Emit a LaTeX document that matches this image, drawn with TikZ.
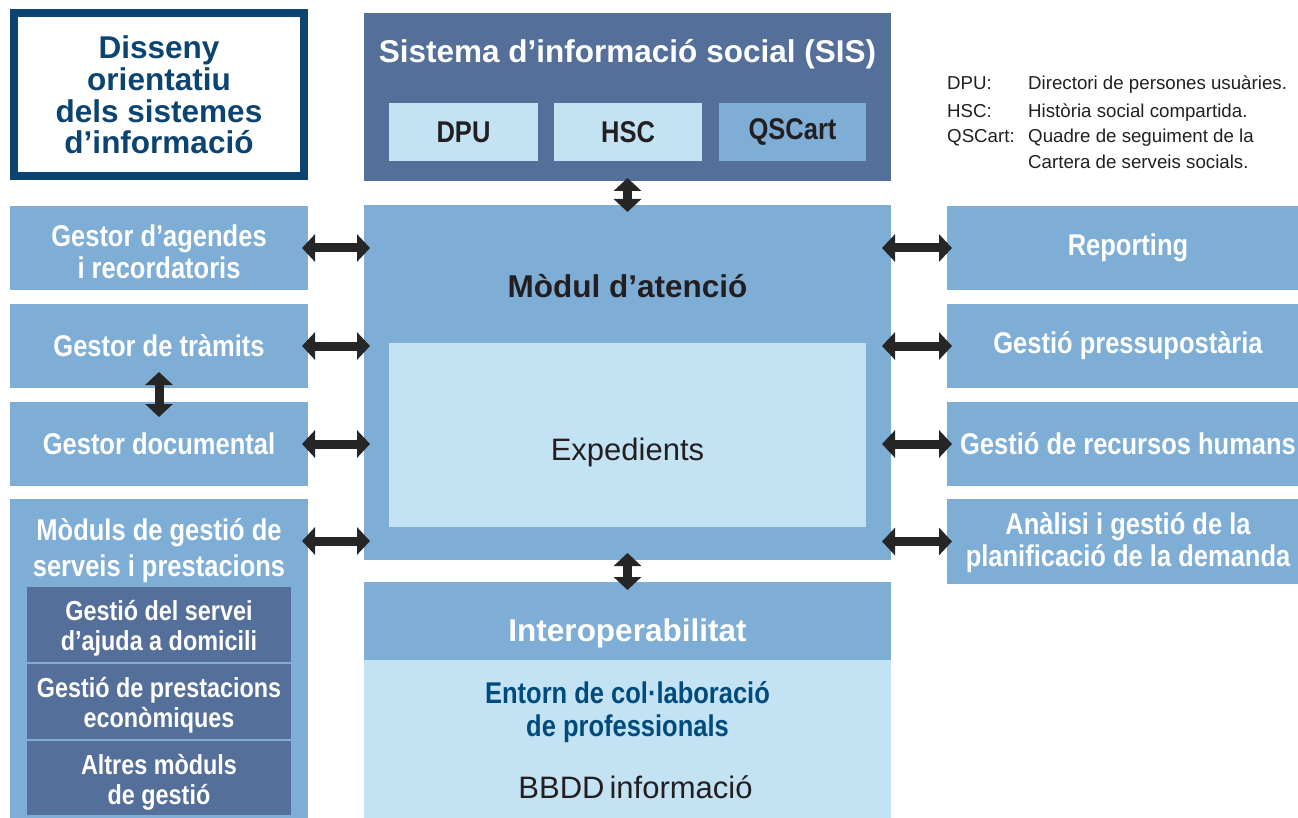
\documentclass[tikz,border=0pt]{standalone}
\usepackage{fontspec}
\setmainfont{Liberation Sans}
\newfontfamily\narrowfont[FakeStretch=0.85]{Liberation Sans}
\usetikzlibrary{arrows.meta}
\definecolor{slate}{HTML}{54709A}
\definecolor{midblue}{HTML}{7EADD6}
\definecolor{lightblue}{HTML}{C3E3F5}
\definecolor{navy}{HTML}{0B4470}
\definecolor{navytext}{HTML}{004B7E}
\definecolor{arrowc}{HTML}{262626}
\definecolor{ink}{HTML}{231F20}
\begin{document}
\begin{tikzpicture}[x=1pt,y=-1pt,
  box/.style={anchor=north west, inner sep=0pt, outer sep=0pt, align=center},
  sidefont/.style={text=white, font=\narrowfont\bfseries\fontsize{30}{32}\selectfont},
  sidebox/.style={box, fill=midblue, minimum width=298pt, minimum height=84pt, sidefont},
  rightbox/.style={sidebox, minimum width=362pt},
  subbox/.style={box, fill=slate, minimum width=264pt, minimum height=75pt},
  subtext/.style={inner sep=0pt, align=center, text=white,
    font=\narrowfont\bfseries\fontsize{27.5}{30}\selectfont},
  sisbox/.style={box, minimum width=149pt, minimum height=58pt, text=ink,
    font=\narrowfont\bfseries\fontsize{30}{32}\selectfont},
  bigbold/.style={inner sep=0pt, font=\bfseries\fontsize{31.5}{32}\selectfont},
  bigreg/.style={inner sep=0pt, font=\fontsize{31}{32}\selectfont, text=ink},
  legend/.style={inner sep=0pt, anchor=base west, text=ink, font=\fontsize{18.7}{20}\selectfont},
  biarrow/.style={draw=arrowc, line width=9pt, {Triangle[width=27pt,length=13pt]}-{Triangle[width=27pt,length=13pt]}}
]
\useasboundingbox (0,0) rectangle (1298,818);

% title box
\node[draw=navy, line width=8pt, minimum width=290pt, minimum height=163pt, inner sep=0pt,
  align=center, text=navy, font=\bfseries\fontsize{31.5}{31.7}\selectfont] (title) at (159,95)
  {Disseny\\orientatiu\\dels sistemes\\d’informació};

% SIS
\node[box, fill=slate, minimum width=527pt, minimum height=168pt] (sis) at (364,13) {};
\node[bigbold, text=white, anchor=base] (sistitle) at (627.5,63) {Sistema d’informació social (SIS)};
\node[sisbox, fill=lightblue] (dpu) at (389,103) {DPU};
\node[sisbox, fill=lightblue, minimum width=148pt] (hsc) at (554,103) {HSC};
\node[sisbox, fill=midblue, minimum width=147pt] (qscart) at (719,103) {QSCart};

% legend
\node[legend] (l1a) at (947,90) {DPU:};
\node[legend] (l1b) at (1028,90) {Directori de persones usuàries.};
\node[legend] (l2a) at (947,118) {HSC:};
\node[legend] (l2b) at (1028,118) {Història social compartida.};
\node[legend] (l3a) at (947,143) {QSCart:};
\node[legend] (l3b) at (1028,143) {Quadre de seguiment de la};
\node[legend] (l4b) at (1028,169) {Cartera de serveis socials.};

% Modul d'atencio
\node[box, fill=midblue, minimum width=527pt, minimum height=355pt] (modul) at (364,205) {};
\node[bigbold, text=ink, anchor=base] (modultitle) at (627.5,298) {Mòdul d’atenció};
\node[box, fill=lightblue, minimum width=477pt, minimum height=184pt] (exp) at (389,343) {};
\node[bigreg, anchor=base] (exptext) at (627.5,460) {Expedients};

% Interoperabilitat
\node[box, fill=midblue, minimum width=527pt, minimum height=78pt] (interop) at (364,582) {};
\node[bigbold, text=white, anchor=base] (interoptext) at (627.5,641) {Interoperabilitat};
\node[box, fill=lightblue, minimum width=527pt, minimum height=160pt] (bbdd) at (364,660) {};
\node[inner sep=0pt, align=center, text=navytext, font=\narrowfont\bfseries\fontsize{30}{33}\selectfont]
  (entorn) at (627.5,712) {Entorn de col·laboració\\de professionals};
\node[bigreg, anchor=base] (bbddtext) at (635.5,798) {BBDD\hspace{5pt}informació};

% left column
\node[sidebox] (agendes) at (10,206) {};
\node[inner sep=0pt, align=center, sidefont] (agendestext) at (159,252) {Gestor d’agendes\\i recordatoris};
\node[sidebox] (tramits) at (10,304) {Gestor de tràmits};
\node[sidebox] (documental) at (10,402) {Gestor documental};
\node[sidebox, minimum height=319pt] (moduls) at (10,499) {};
\node[inner sep=0pt, align=center, text=white, font=\narrowfont\bfseries\fontsize{30}{36}\selectfont]
  (modulstext) at (159,551) {Mòduls de gestió de\\serveis i prestacions};
\node[subbox] (sad) at (27,587) {};
\node[subtext] (sadtext) at (159,628.5) {Gestió del servei\\d’ajuda a domicili};
\node[subbox] (pe) at (27,664) {};
\node[subtext] (petext) at (159,705.5) {Gestió de prestacions\\econòmiques};
\node[subbox, minimum height=74pt] (altres) at (27,741) {};
\node[subtext] (altrestext) at (159,782) {Altres mòduls\\de gestió};
\coordinate (mhdr) at ([yshift=-42pt]moduls.north east);

% right column
\node[rightbox] (reporting) at (947,206) {Reporting};
\node[rightbox] (pressu) at (947,304) {Gestió pressupostària};
\node[rightbox] (rrhh) at (947,402) {Gestió de recursos humans};
\node[rightbox, minimum height=85pt] (analisi) at (947,499) {};
\node[inner sep=0pt, align=center, sidefont] (analisitext) at (1128,542.5) {Anàlisi i gestió de la\\planificació de la demanda};

% arrows
\draw[biarrow, shorten <=-3pt, shorten >=-7pt] (sis.south) -- (modul.north);
\draw[biarrow, shorten <=-7pt, shorten >=-8pt] (modul.south) -- (interop.north);
\draw[biarrow, shorten <=-16pt, shorten >=-15pt] (tramits.south) -- (documental.north);

\draw[biarrow, shorten <=-6pt, shorten >=-6pt] (agendes.east) -- (agendes.east -| modul.west);
\draw[biarrow, shorten <=-6pt, shorten >=-6pt] (tramits.east) -- (tramits.east -| modul.west);
\draw[biarrow, shorten <=-6pt, shorten >=-6pt] (documental.east) -- (documental.east -| modul.west);
\draw[biarrow, shorten <=-6pt, shorten >=-6pt] (mhdr) -- (mhdr -| modul.west);

\draw[biarrow, shorten <=-9pt, shorten >=-5pt] (reporting.west -| modul.east) -- (reporting.west);
\draw[biarrow, shorten <=-9pt, shorten >=-5pt] (pressu.west -| modul.east) -- (pressu.west);
\draw[biarrow, shorten <=-9pt, shorten >=-5pt] (rrhh.west -| modul.east) -- (rrhh.west);
\draw[biarrow, shorten <=-9pt, shorten >=-5pt] (analisi.west -| modul.east) -- (analisi.west);
\end{tikzpicture}
\end{document}
